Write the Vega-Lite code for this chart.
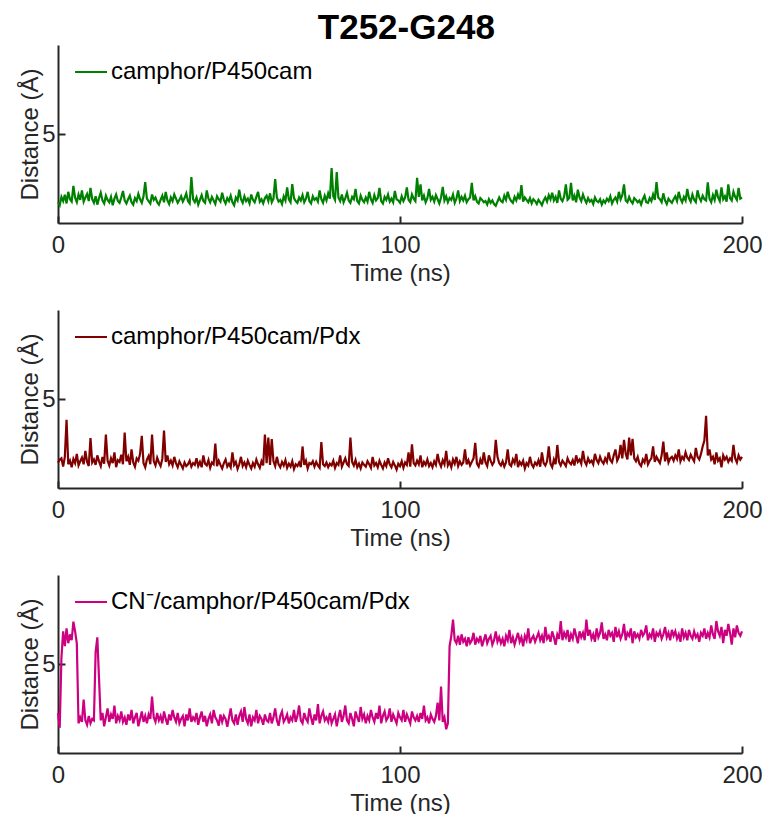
{
"$schema":"https://vega.github.io/schema/vega-lite/v6.json",
"background":"white",
"padding":{"left":18,"top":11,"right":5,"bottom":0},
"title":{"text":"T252-G248","fontSize":35,"fontWeight":"bold","font":"Liberation Sans","color":"#000000","anchor":"middle","offset":-1,"dx":16},
"config":{
"view":{"stroke":null},
"axis":{"domainColor":"#262626","domainWidth":2,"tickColor":"#262626","tickWidth":2,"tickSize":-7,"labelFont":"Liberation Sans","labelFontSize":24,"labelColor":"#262626","titleFont":"Liberation Sans","titleFontSize":24,"titleFontWeight":"normal","titleColor":"#262626","grid":false,"labelFlush":false},
"axisX":{"labelPadding":17,"titlePadding":4},
"axisY":{"labelPadding":10,"titlePadding":-1},
"legend":{"orient":"none","legendX":16,"legendY":10,"padding":0,"symbolType":"stroke","symbolSize":1024,"symbolStrokeWidth":2,"labelFont":"Liberation Sans","labelFontSize":24,"labelColor":"#000000","labelOffset":3,"labelLimit":600}
},
"resolve":{"scale":{"color":"independent"},"legend":{"color":"independent"}},
"spacing":87,
"bounds":"flush",
"data":{"values":[
{"t":0,"g":2.70,"r":2.85,"m":3.35},{"t":0.5,"g":2.60,"r":2.95,"m":2.85},{"t":1,"g":2.88,"r":3.00,"m":5.20},{"t":1.5,"g":2.74,"r":2.72,"m":6.10},{"t":2,"g":2.95,"r":3.05,"m":5.60},{"t":2.5,"g":2.66,"r":4.30,"m":6.20},{"t":3,"g":3.05,"r":2.80,"m":5.70},{"t":3.5,"g":2.80,"r":2.92,"m":6.00},{"t":4,"g":2.72,"r":2.70,"m":5.80},{"t":4.5,"g":3.25,"r":2.98,"m":6.43},
{"t":5,"g":2.85,"r":2.84,"m":6.10},{"t":5.5,"g":2.70,"r":3.15,"m":5.70},{"t":6,"g":2.96,"r":2.76,"m":3.00},{"t":6.5,"g":2.78,"r":2.90,"m":3.20},{"t":7,"g":3.10,"r":3.02,"m":3.05},{"t":7.5,"g":2.72,"r":2.80,"m":3.80},{"t":8,"g":2.86,"r":3.25,"m":3.10},{"t":8.5,"g":2.98,"r":2.88,"m":2.95},{"t":9,"g":2.74,"r":2.74,"m":3.25},{"t":9.5,"g":3.18,"r":3.68,"m":3.00},
{"t":10,"g":2.80,"r":2.86,"m":3.15},{"t":10.5,"g":2.68,"r":2.96,"m":3.10},{"t":11,"g":2.90,"r":2.78,"m":5.40},{"t":11.5,"g":2.62,"r":3.10,"m":5.90},{"t":12,"g":2.84,"r":2.90,"m":4.50},{"t":12.5,"g":3.02,"r":2.74,"m":3.10},{"t":13,"g":2.76,"r":3.05,"m":3.35},{"t":13.5,"g":2.66,"r":2.82,"m":2.90},{"t":14,"g":2.92,"r":3.80,"m":3.20},{"t":14.5,"g":2.78,"r":2.92,"m":3.50},
{"t":15,"g":2.70,"r":2.76,"m":3.05},{"t":15.5,"g":2.88,"r":3.00,"m":3.30},{"t":16,"g":2.60,"r":2.84,"m":3.15},{"t":16.5,"g":2.82,"r":3.20,"m":3.60},{"t":17,"g":2.96,"r":2.70,"m":3.00},{"t":17.5,"g":2.74,"r":2.94,"m":3.25},{"t":18,"g":2.68,"r":2.88,"m":3.10},{"t":18.5,"g":2.86,"r":3.12,"m":3.40},{"t":19,"g":3.08,"r":2.80,"m":3.05},{"t":19.5,"g":2.76,"r":3.87,"m":3.20},
{"t":20,"g":2.66,"r":2.90,"m":2.95},{"t":20.5,"g":2.80,"r":3.05,"m":3.30},{"t":21,"g":2.92,"r":2.78,"m":3.10},{"t":21.5,"g":2.70,"r":3.30,"m":3.45},{"t":22,"g":2.62,"r":2.86,"m":3.00},{"t":22.5,"g":2.84,"r":2.72,"m":3.20},{"t":23,"g":2.74,"r":3.00,"m":3.35},{"t":23.5,"g":2.98,"r":2.92,"m":2.90},{"t":24,"g":2.80,"r":3.15,"m":3.15},{"t":24.5,"g":2.68,"r":3.76,"m":3.40},
{"t":25,"g":2.90,"r":2.84,"m":3.05},{"t":25.5,"g":3.38,"r":2.70,"m":3.25},{"t":26,"g":2.82,"r":2.96,"m":3.00},{"t":26.5,"g":2.74,"r":3.08,"m":3.30},{"t":27,"g":2.66,"r":2.80,"m":3.15},{"t":27.5,"g":2.96,"r":3.80,"m":3.90},{"t":28,"g":2.78,"r":2.90,"m":3.20},{"t":28.5,"g":2.86,"r":2.76,"m":3.05},{"t":29,"g":2.70,"r":3.02,"m":3.35},{"t":29.5,"g":2.62,"r":2.86,"m":3.10},
{"t":30,"g":2.78,"r":2.74,"m":3.25},{"t":30.5,"g":2.92,"r":2.98,"m":3.00},{"t":31,"g":2.70,"r":3.94,"m":3.40},{"t":31.5,"g":3.05,"r":2.88,"m":3.15},{"t":32,"g":2.76,"r":3.10,"m":2.95},{"t":32.5,"g":2.64,"r":2.80,"m":3.30},{"t":33,"g":2.86,"r":2.92,"m":3.10},{"t":33.5,"g":2.74,"r":2.76,"m":3.45},{"t":34,"g":2.96,"r":3.05,"m":3.20},{"t":34.5,"g":2.82,"r":2.84,"m":3.05},
{"t":35,"g":2.68,"r":2.70,"m":3.35},{"t":35.5,"g":2.78,"r":2.90,"m":3.00},{"t":36,"g":2.90,"r":2.78,"m":3.15},{"t":36.5,"g":2.72,"r":2.66,"m":3.25},{"t":37,"g":2.84,"r":2.86,"m":2.90},{"t":37.5,"g":3.00,"r":2.74,"m":3.30},{"t":38,"g":2.74,"r":2.80,"m":3.10},{"t":38.5,"g":2.66,"r":2.92,"m":3.50},{"t":39,"g":3.55,"r":2.72,"m":3.05},{"t":39.5,"g":2.80,"r":2.84,"m":3.20},
{"t":40,"g":2.70,"r":2.78,"m":3.10},{"t":40.5,"g":2.86,"r":3.00,"m":3.35},{"t":41,"g":2.62,"r":2.74,"m":2.95},{"t":41.5,"g":2.78,"r":2.88,"m":3.20},{"t":42,"g":2.94,"r":2.70,"m":3.40},{"t":42.5,"g":2.74,"r":3.10,"m":3.05},{"t":43,"g":2.68,"r":2.82,"m":3.25},{"t":43.5,"g":3.10,"r":2.76,"m":2.90},{"t":44,"g":2.82,"r":2.94,"m":3.15},{"t":44.5,"g":2.70,"r":2.68,"m":3.30},
{"t":45,"g":2.88,"r":2.86,"m":3.00},{"t":45.5,"g":2.76,"r":2.80,"m":3.45},{"t":46,"g":2.64,"r":3.50,"m":3.20},{"t":46.5,"g":2.90,"r":2.74,"m":3.10},{"t":47,"g":2.80,"r":2.92,"m":2.92},{"t":47.5,"g":2.72,"r":2.78,"m":3.30},{"t":48,"g":3.02,"r":2.66,"m":3.05},{"t":48.5,"g":2.78,"r":2.84,"m":3.25},{"t":49,"g":2.66,"r":2.96,"m":3.15},{"t":49.5,"g":2.84,"r":2.72,"m":2.88},
{"t":50,"g":2.74,"r":2.82,"m":3.20},{"t":50.5,"g":2.92,"r":2.70,"m":3.50},{"t":51,"g":2.70,"r":3.20,"m":3.10},{"t":51.5,"g":2.60,"r":2.78,"m":3.00},{"t":52,"g":2.86,"r":2.88,"m":3.30},{"t":52.5,"g":2.76,"r":2.64,"m":2.95},{"t":53,"g":3.12,"r":2.80,"m":3.25},{"t":53.5,"g":2.80,"r":3.05,"m":3.40},{"t":54,"g":2.68,"r":2.74,"m":3.05},{"t":54.5,"g":2.90,"r":2.86,"m":3.55},
{"t":55,"g":2.74,"r":2.70,"m":3.15},{"t":55.5,"g":2.82,"r":2.92,"m":3.00},{"t":56,"g":2.66,"r":2.78,"m":3.30},{"t":56.5,"g":2.96,"r":2.66,"m":2.90},{"t":57,"g":2.78,"r":2.84,"m":3.20},{"t":57.5,"g":2.70,"r":2.72,"m":3.10},{"t":58,"g":2.88,"r":2.96,"m":3.45},{"t":58.5,"g":3.05,"r":2.80,"m":3.00},{"t":59,"g":2.72,"r":2.68,"m":3.25},{"t":59.5,"g":2.80,"r":2.90,"m":3.15},
{"t":60,"g":2.66,"r":2.76,"m":2.95},{"t":60.5,"g":2.84,"r":3.80,"m":3.30},{"t":61,"g":2.92,"r":2.84,"m":3.10},{"t":61.5,"g":2.74,"r":3.70,"m":3.05},{"t":62,"g":3.00,"r":2.78,"m":3.35},{"t":62.5,"g":2.70,"r":3.65,"m":3.00},{"t":63,"g":2.82,"r":2.90,"m":3.20},{"t":63.5,"g":3.48,"r":2.74,"m":3.50},{"t":64,"g":2.86,"r":3.05,"m":3.10},{"t":64.5,"g":2.72,"r":2.80,"m":2.92},
{"t":65,"g":2.78,"r":2.70,"m":3.25},{"t":65.5,"g":2.64,"r":2.88,"m":3.40},{"t":66,"g":2.90,"r":2.76,"m":3.05},{"t":66.5,"g":2.76,"r":2.94,"m":3.15},{"t":67,"g":3.20,"r":2.68,"m":3.30},{"t":67.5,"g":2.80,"r":2.82,"m":3.00},{"t":68,"g":2.70,"r":2.72,"m":3.20},{"t":68.5,"g":3.31,"r":2.90,"m":3.10},{"t":69,"g":2.84,"r":2.64,"m":3.45},{"t":69.5,"g":2.74,"r":2.80,"m":3.05},
{"t":70,"g":2.68,"r":2.74,"m":3.25},{"t":70.5,"g":2.86,"r":2.86,"m":3.60},{"t":71,"g":2.76,"r":2.70,"m":3.10},{"t":71.5,"g":2.94,"r":3.40,"m":3.00},{"t":72,"g":2.70,"r":2.78,"m":3.35},{"t":72.5,"g":2.82,"r":2.92,"m":3.15},{"t":73,"g":3.05,"r":2.66,"m":3.05},{"t":73.5,"g":2.74,"r":2.84,"m":3.50},{"t":74,"g":2.66,"r":2.80,"m":3.20},{"t":74.5,"g":2.90,"r":2.90,"m":2.95},
{"t":75,"g":2.78,"r":2.72,"m":3.30},{"t":75.5,"g":2.84,"r":2.88,"m":3.10},{"t":76,"g":2.72,"r":2.76,"m":3.65},{"t":76.5,"g":3.10,"r":2.68,"m":3.00},{"t":77,"g":2.80,"r":3.55,"m":3.25},{"t":77.5,"g":2.68,"r":2.80,"m":3.40},{"t":78,"g":2.92,"r":2.74,"m":3.10},{"t":78.5,"g":2.76,"r":2.86,"m":3.20},{"t":79,"g":3.00,"r":2.70,"m":3.05},{"t":79.5,"g":2.82,"r":2.82,"m":3.35},
{"t":80,"g":3.85,"r":2.76,"m":3.00},{"t":80.5,"g":2.90,"r":2.92,"m":3.15},{"t":81,"g":2.78,"r":2.68,"m":3.30},{"t":81.5,"g":3.72,"r":2.84,"m":2.90},{"t":82,"g":2.86,"r":2.78,"m":3.20},{"t":82.5,"g":2.74,"r":3.10,"m":3.45},{"t":83,"g":2.96,"r":2.72,"m":3.05},{"t":83.5,"g":2.70,"r":2.86,"m":3.25},{"t":84,"g":2.84,"r":3.00,"m":3.60},{"t":84.5,"g":3.02,"r":2.80,"m":3.10},
{"t":85,"g":2.76,"r":2.74,"m":3.00},{"t":85.5,"g":2.68,"r":3.70,"m":3.35},{"t":86,"g":2.88,"r":2.88,"m":3.15},{"t":86.5,"g":2.80,"r":2.76,"m":2.90},{"t":87,"g":3.15,"r":2.94,"m":3.40},{"t":87.5,"g":2.74,"r":2.70,"m":3.20},{"t":88,"g":2.66,"r":2.82,"m":3.05},{"t":88.5,"g":2.92,"r":2.66,"m":3.55},{"t":89,"g":2.78,"r":2.86,"m":3.15},{"t":89.5,"g":2.70,"r":2.78,"m":3.30},
{"t":90,"g":2.86,"r":2.72,"m":3.00},{"t":90.5,"g":2.72,"r":2.90,"m":3.25},{"t":91,"g":3.05,"r":2.80,"m":3.10},{"t":91.5,"g":2.80,"r":2.68,"m":3.45},{"t":92,"g":2.68,"r":3.05,"m":3.20},{"t":92.5,"g":2.94,"r":2.76,"m":3.05},{"t":93,"g":2.76,"r":2.84,"m":3.35},{"t":93.5,"g":2.84,"r":2.70,"m":3.15},{"t":94,"g":3.18,"r":2.92,"m":3.60},{"t":94.5,"g":2.74,"r":2.78,"m":3.00},
{"t":95,"g":2.66,"r":2.66,"m":3.25},{"t":95.5,"g":2.88,"r":2.86,"m":3.40},{"t":96,"g":2.78,"r":2.74,"m":3.10},{"t":96.5,"g":2.96,"r":3.00,"m":3.20},{"t":97,"g":2.72,"r":2.80,"m":3.50},{"t":97.5,"g":2.82,"r":2.70,"m":3.05},{"t":98,"g":2.70,"r":2.88,"m":3.30},{"t":98.5,"g":3.08,"r":2.76,"m":3.15},{"t":99,"g":2.80,"r":2.62,"m":3.00},{"t":99.5,"g":2.76,"r":2.82,"m":3.35},
{"t":100,"g":2.68,"r":2.74,"m":3.20},{"t":100.5,"g":2.90,"r":2.90,"m":3.10},{"t":101,"g":2.74,"r":2.68,"m":3.45},{"t":101.5,"g":2.86,"r":2.86,"m":3.05},{"t":102,"g":3.20,"r":2.78,"m":3.30},{"t":102.5,"g":2.78,"r":3.20,"m":3.15},{"t":103,"g":2.70,"r":2.72,"m":3.00},{"t":103.5,"g":2.96,"r":3.47,"m":3.40},{"t":104,"g":2.82,"r":2.84,"m":3.20},{"t":104.5,"g":2.74,"r":2.76,"m":3.10},
{"t":105,"g":3.52,"r":2.92,"m":3.25},{"t":105.5,"g":2.88,"r":2.80,"m":3.05},{"t":106,"g":3.30,"r":3.10,"m":3.35},{"t":106.5,"g":2.76,"r":2.70,"m":3.15},{"t":107,"g":2.92,"r":2.88,"m":3.60},{"t":107.5,"g":2.70,"r":2.78,"m":3.10},{"t":108,"g":2.84,"r":2.96,"m":3.20},{"t":108.5,"g":3.15,"r":2.74,"m":3.00},{"t":109,"g":2.78,"r":2.84,"m":3.30},{"t":109.5,"g":2.88,"r":2.70,"m":3.15},
{"t":110,"g":2.72,"r":2.90,"m":3.05},{"t":110.5,"g":2.94,"r":2.78,"m":3.25},{"t":111,"g":2.80,"r":3.15,"m":3.70},{"t":111.5,"g":2.66,"r":2.86,"m":3.10},{"t":112,"g":2.86,"r":2.72,"m":4.24},{"t":112.5,"g":3.22,"r":2.94,"m":3.05},{"t":113,"g":2.76,"r":2.80,"m":3.20},{"t":113.5,"g":2.90,"r":3.25,"m":2.80},{"t":114,"g":2.70,"r":2.76,"m":3.00},{"t":114.5,"g":2.84,"r":2.88,"m":5.60},
{"t":115,"g":2.78,"r":2.70,"m":5.95},{"t":115.5,"g":2.96,"r":2.96,"m":6.50},{"t":116,"g":2.68,"r":2.82,"m":5.80},{"t":116.5,"g":2.82,"r":3.05,"m":5.70},{"t":117,"g":3.10,"r":2.74,"m":5.95},{"t":117.5,"g":2.74,"r":2.90,"m":5.65},{"t":118,"g":2.88,"r":2.78,"m":6.00},{"t":118.5,"g":2.76,"r":2.86,"m":5.75},{"t":119,"g":2.92,"r":3.30,"m":5.85},{"t":119.5,"g":2.70,"r":2.80,"m":5.60},
{"t":120,"g":2.80,"r":2.94,"m":5.90},{"t":120.5,"g":2.86,"r":2.76,"m":5.70},{"t":121,"g":3.35,"r":2.88,"m":5.80},{"t":121.5,"g":2.76,"r":3.00,"m":6.05},{"t":122,"g":2.90,"r":3.52,"m":5.65},{"t":122.5,"g":2.72,"r":2.82,"m":5.85},{"t":123,"g":2.66,"r":2.72,"m":5.75},{"t":123.5,"g":2.84,"r":2.96,"m":5.95},{"t":124,"g":2.78,"r":2.80,"m":5.60},{"t":124.5,"g":2.70,"r":3.20,"m":5.80},
{"t":125,"g":2.74,"r":2.86,"m":6.00},{"t":125.5,"g":2.62,"r":2.74,"m":5.70},{"t":126,"g":2.80,"r":3.10,"m":5.85},{"t":126.5,"g":2.68,"r":2.92,"m":5.95},{"t":127,"g":2.76,"r":2.78,"m":5.65},{"t":127.5,"g":2.64,"r":2.88,"m":5.80},{"t":128,"g":2.58,"r":3.62,"m":6.10},{"t":128.5,"g":2.72,"r":3.05,"m":5.75},{"t":129,"g":2.86,"r":2.84,"m":5.90},{"t":129.5,"g":2.74,"r":2.76,"m":5.70},
{"t":130,"g":2.70,"r":2.90,"m":5.85},{"t":130.5,"g":2.92,"r":2.72,"m":5.60},{"t":131,"g":2.78,"r":2.86,"m":5.95},{"t":131.5,"g":3.05,"r":3.30,"m":5.80},{"t":132,"g":2.84,"r":2.80,"m":6.15},{"t":132.5,"g":2.74,"r":2.74,"m":5.70},{"t":133,"g":2.68,"r":2.96,"m":5.90},{"t":133.5,"g":2.88,"r":2.84,"m":5.65},{"t":134,"g":2.76,"r":3.15,"m":5.85},{"t":134.5,"g":2.96,"r":2.70,"m":6.05},
{"t":135,"g":2.80,"r":2.88,"m":5.75},{"t":135.5,"g":3.28,"r":2.78,"m":5.90},{"t":136,"g":2.72,"r":2.92,"m":5.60},{"t":136.5,"g":2.86,"r":2.66,"m":5.95},{"t":137,"g":2.78,"r":2.84,"m":5.80},{"t":137.5,"g":2.70,"r":2.76,"m":6.20},{"t":138,"g":2.84,"r":3.05,"m":5.70},{"t":138.5,"g":2.66,"r":2.80,"m":5.85},{"t":139,"g":2.80,"r":2.70,"m":5.95},{"t":139.5,"g":2.74,"r":2.86,"m":5.75},
{"t":140,"g":2.64,"r":2.78,"m":5.90},{"t":140.5,"g":2.78,"r":2.94,"m":6.05},{"t":141,"g":2.70,"r":2.72,"m":5.80},{"t":141.5,"g":2.60,"r":3.20,"m":5.95},{"t":142,"g":2.76,"r":2.84,"m":5.70},{"t":142.5,"g":2.86,"r":2.76,"m":6.25},{"t":143,"g":2.72,"r":2.90,"m":5.85},{"t":143.5,"g":2.94,"r":3.40,"m":5.95},{"t":144,"g":2.80,"r":2.82,"m":5.75},{"t":144.5,"g":3.02,"r":2.70,"m":6.10},
{"t":145,"g":2.76,"r":2.96,"m":5.90},{"t":145.5,"g":2.88,"r":2.80,"m":5.65},{"t":146,"g":2.68,"r":3.45,"m":6.00},{"t":146.5,"g":3.10,"r":2.88,"m":5.85},{"t":147,"g":2.82,"r":2.76,"m":6.45},{"t":147.5,"g":2.74,"r":2.92,"m":5.80},{"t":148,"g":2.90,"r":2.84,"m":6.05},{"t":148.5,"g":3.30,"r":2.74,"m":5.90},{"t":149,"g":2.78,"r":3.00,"m":6.15},{"t":149.5,"g":2.84,"r":2.86,"m":5.75},
{"t":150,"g":3.35,"r":2.80,"m":6.00},{"t":150.5,"g":2.76,"r":2.94,"m":5.85},{"t":151,"g":2.92,"r":2.76,"m":6.20},{"t":151.5,"g":2.70,"r":3.10,"m":5.95},{"t":152,"g":3.12,"r":2.88,"m":5.70},{"t":152.5,"g":2.86,"r":2.96,"m":6.10},{"t":153,"g":2.74,"r":2.82,"m":5.90},{"t":153.5,"g":2.96,"r":3.25,"m":6.05},{"t":154,"g":2.80,"r":2.90,"m":5.80},{"t":154.5,"g":2.68,"r":2.78,"m":6.50},
{"t":155,"g":2.84,"r":3.00,"m":5.95},{"t":155.5,"g":2.72,"r":2.86,"m":6.15},{"t":156,"g":2.78,"r":2.92,"m":5.85},{"t":156.5,"g":2.64,"r":2.80,"m":6.00},{"t":157,"g":2.86,"r":3.15,"m":5.75},{"t":157.5,"g":2.74,"r":2.94,"m":6.20},{"t":158,"g":2.70,"r":2.84,"m":5.90},{"t":158.5,"g":2.80,"r":3.05,"m":6.05},{"t":159,"g":2.62,"r":2.90,"m":6.40},{"t":159.5,"g":2.76,"r":2.82,"m":5.85},
{"t":160,"g":2.68,"r":3.00,"m":6.00},{"t":160.5,"g":2.82,"r":2.88,"m":5.80},{"t":161,"g":2.74,"r":3.20,"m":6.15},{"t":161.5,"g":2.90,"r":2.94,"m":5.95},{"t":162,"g":2.66,"r":2.86,"m":6.05},{"t":162.5,"g":2.78,"r":3.10,"m":5.75},{"t":163,"g":2.86,"r":3.30,"m":6.25},{"t":163.5,"g":2.72,"r":2.92,"m":5.90},{"t":164,"g":3.05,"r":3.05,"m":6.10},{"t":164.5,"g":2.80,"r":3.45,"m":5.85},
{"t":165,"g":2.94,"r":3.00,"m":6.00},{"t":165.5,"g":3.30,"r":3.62,"m":6.35},{"t":166,"g":2.76,"r":3.15,"m":5.80},{"t":166.5,"g":2.70,"r":2.96,"m":6.05},{"t":167,"g":2.88,"r":3.70,"m":5.95},{"t":167.5,"g":2.74,"r":3.10,"m":6.20},{"t":168,"g":2.66,"r":3.66,"m":5.70},{"t":168.5,"g":2.84,"r":3.00,"m":6.10},{"t":169,"g":2.78,"r":2.90,"m":5.90},{"t":169.5,"g":2.70,"r":3.05,"m":6.00},
{"t":170,"g":2.76,"r":2.82,"m":5.85},{"t":170.5,"g":2.62,"r":2.74,"m":6.15},{"t":171,"g":2.80,"r":2.96,"m":5.95},{"t":171.5,"g":2.92,"r":2.86,"m":6.05},{"t":172,"g":2.70,"r":3.15,"m":6.30},{"t":172.5,"g":2.68,"r":2.80,"m":5.80},{"t":173,"g":2.84,"r":2.92,"m":6.00},{"t":173.5,"g":2.74,"r":3.00,"m":5.90},{"t":174,"g":2.96,"r":3.40,"m":6.20},{"t":174.5,"g":2.78,"r":2.88,"m":5.75},
{"t":175,"g":3.38,"r":3.05,"m":6.05},{"t":175.5,"g":2.86,"r":2.94,"m":5.95},{"t":176,"g":2.80,"r":2.84,"m":6.10},{"t":176.5,"g":2.70,"r":3.10,"m":5.85},{"t":177,"g":3.00,"r":3.56,"m":6.00},{"t":177.5,"g":2.76,"r":2.90,"m":6.25},{"t":178,"g":2.64,"r":3.20,"m":5.90},{"t":178.5,"g":2.82,"r":2.86,"m":6.05},{"t":179,"g":2.74,"r":3.00,"m":5.80},{"t":179.5,"g":2.68,"r":3.05,"m":6.15},
{"t":180,"g":2.80,"r":2.92,"m":5.95},{"t":180.5,"g":2.90,"r":3.10,"m":6.10},{"t":181,"g":2.74,"r":2.98,"m":5.85},{"t":181.5,"g":3.05,"r":3.30,"m":6.00},{"t":182,"g":2.82,"r":2.90,"m":5.75},{"t":182.5,"g":2.70,"r":3.05,"m":6.20},{"t":183,"g":2.88,"r":2.96,"m":5.90},{"t":183.5,"g":2.76,"r":3.20,"m":6.05},{"t":184,"g":3.15,"r":3.02,"m":5.80},{"t":184.5,"g":2.84,"r":2.94,"m":6.15},
{"t":185,"g":2.72,"r":3.12,"m":5.95},{"t":185.5,"g":2.96,"r":3.00,"m":5.85},{"t":186,"g":2.78,"r":2.90,"m":6.10},{"t":186.5,"g":2.70,"r":3.35,"m":5.90},{"t":187,"g":3.10,"r":3.05,"m":6.00},{"t":187.5,"g":2.86,"r":2.96,"m":5.75},{"t":188,"g":2.74,"r":3.15,"m":6.05},{"t":188.5,"g":2.92,"r":3.40,"m":5.95},{"t":189,"g":2.80,"r":3.60,"m":6.20},{"t":189.5,"g":2.76,"r":4.43,"m":5.85},
{"t":190,"g":3.37,"r":3.10,"m":6.05},{"t":190.5,"g":2.82,"r":3.30,"m":5.90},{"t":191,"g":2.70,"r":2.96,"m":6.30},{"t":191.5,"g":2.94,"r":3.05,"m":6.00},{"t":192,"g":2.78,"r":2.80,"m":5.85},{"t":192.5,"g":3.12,"r":3.20,"m":6.45},{"t":193,"g":2.86,"r":2.92,"m":6.10},{"t":193.5,"g":2.74,"r":3.00,"m":5.95},{"t":194,"g":3.20,"r":2.70,"m":6.25},{"t":194.5,"g":2.80,"r":3.10,"m":5.70},
{"t":195,"g":2.90,"r":2.96,"m":6.15},{"t":195.5,"g":2.72,"r":3.05,"m":5.95},{"t":196,"g":3.30,"r":2.88,"m":6.35},{"t":196.5,"g":2.84,"r":3.00,"m":6.05},{"t":197,"g":2.76,"r":2.92,"m":5.65},{"t":197.5,"g":3.05,"r":3.45,"m":6.20},{"t":198,"g":2.88,"r":3.00,"m":5.90},{"t":198.5,"g":2.78,"r":2.86,"m":6.30},{"t":199,"g":3.18,"r":3.10,"m":6.05},{"t":199.5,"g":2.82,"r":2.96,"m":5.95},
{"t":200,"g":2.86,"r":3.05,"m":6.10}
]},
"vconcat":[
{"width":684,"height":178,
"mark":{"type":"line","strokeWidth":2.2},
"encoding":{
"x":{"field":"t","type":"quantitative","scale":{"domain":[0,200],"nice":false},"axis":{"title":"Time (ns)","values":[0,100,200]}},
"y":{"field":"g","type":"quantitative","scale":{"domain":[2,8],"nice":false,"zero":false},"axis":{"title":"Distance (Å)","values":[5]}},
"color":{"datum":"camphor/P450cam","type":"nominal","scale":{"range":["#008000"]},"legend":{"title":null}}
}},
{"width":684,"height":178,
"mark":{"type":"line","strokeWidth":2.2},
"encoding":{
"x":{"field":"t","type":"quantitative","scale":{"domain":[0,200],"nice":false},"axis":{"title":"Time (ns)","values":[0,100,200]}},
"y":{"field":"r","type":"quantitative","scale":{"domain":[2,8],"nice":false,"zero":false},"axis":{"title":"Distance (Å)","values":[5]}},
"color":{"datum":"camphor/P450cam/Pdx","type":"nominal","scale":{"range":["#800000"]},"legend":{"title":null}}
}},
{"width":684,"height":178,
"mark":{"type":"line","strokeWidth":2.2},
"encoding":{
"x":{"field":"t","type":"quantitative","scale":{"domain":[0,200],"nice":false},"axis":{"title":"Time (ns)","values":[0,100,200]}},
"y":{"field":"m","type":"quantitative","scale":{"domain":[2,8],"nice":false,"zero":false},"axis":{"title":"Distance (Å)","values":[5]}},
"color":{"datum":"CN⁻/camphor/P450cam/Pdx","type":"nominal","scale":{"range":["#CC0080"]},"legend":{"title":null}}
}}
]
}
